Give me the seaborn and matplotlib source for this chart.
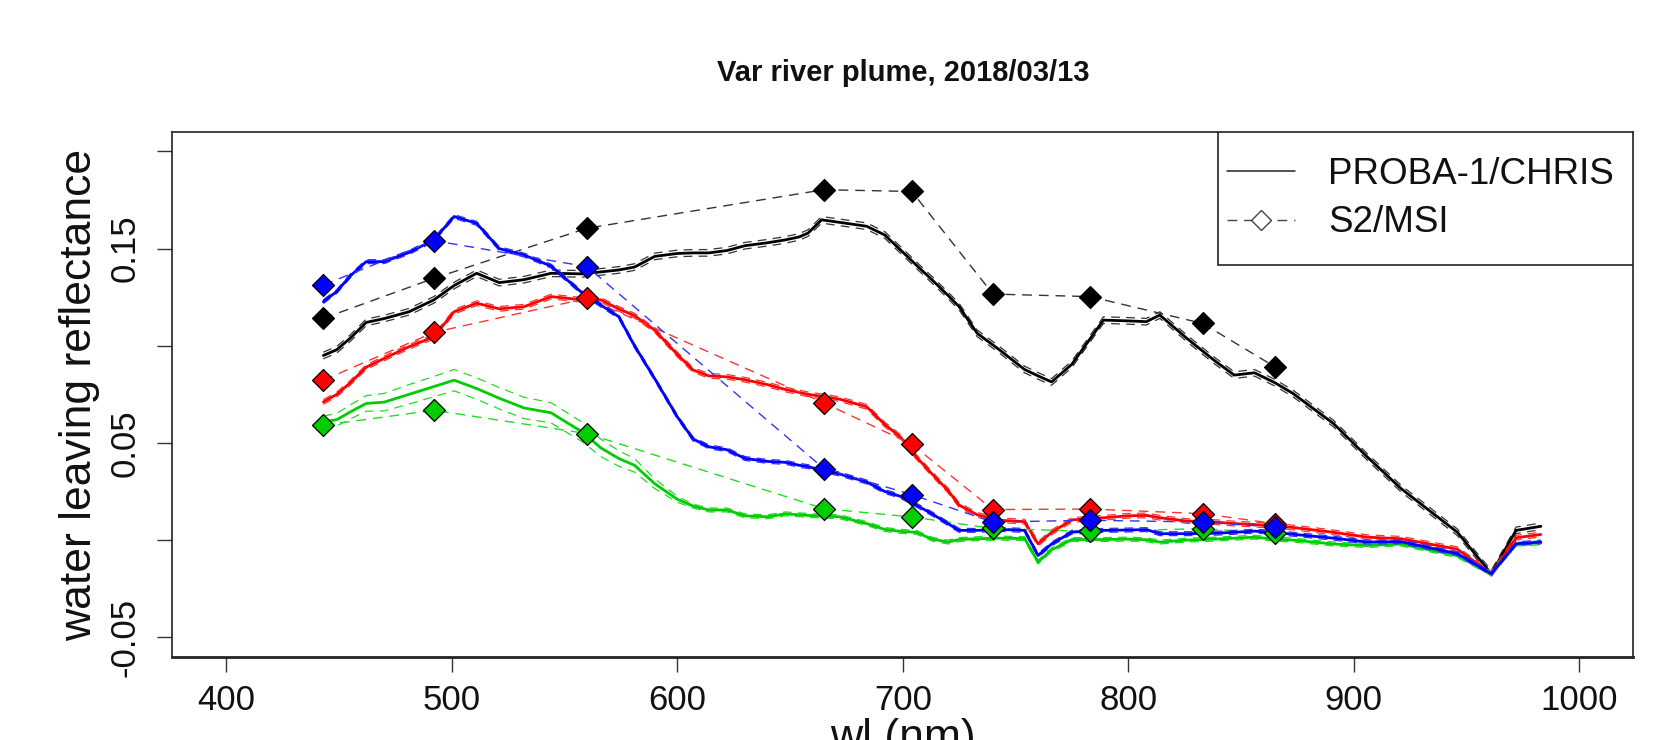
import numpy as np
import matplotlib
matplotlib.use("Agg")
import matplotlib.pyplot as plt
import seaborn as sns
from matplotlib.lines import Line2D
from matplotlib.patches import Rectangle

# ---------------- data ----------------
wl_chris = [443, 449, 455, 462, 470, 481, 492, 501, 511, 521, 532, 544, 558, 566, 574,
            581, 590, 600, 607, 614, 622, 630, 640, 648, 654, 658, 664, 672, 684, 692,
            699, 706, 713, 720, 725, 733, 743, 754, 760, 766, 775, 789, 800, 808, 814,
            826, 838, 847, 856, 865, 873, 891, 906, 921, 946, 961, 972, 983]

black_chris = [.095, .098, .104, .112, .114, .1175, .1236, .131, .1373, .1325, .134, .1373, .137, .138, .139,
               .1405, .146, .1475, .1478, .1478, .149, .1515, .153, .1545, .156, .158, .1648, .1635, .1615, .157,
               .1493, .1415, .1339, .126, .1201, .1064, .0978, .0878, .0845, .0814, .0905, .1132, .1128, .1124, .1158,
               .1038, .0926, .0849, .0861, .081, .0755, .06, .0428, .0265, .004, -.0173, .005, .0071]

blue_chris = [.1227, .128, .136, .1433, .1433, .148, .1545, .1665, .163, .15, .1467, .141, .127, .121, .115,
              .1, .083, .0634, .052, .048, .0465, .042, .0405, .04, .0385, .0378, .036, .034, .0299, .025,
              .0225, .018, .0135, .0085, .005, .005, .0055, .005, -.0079, -.002, .0041, .005, .0052, .0054, .0033,
              .0033, .0035, .004, .0046, .004, .003, .001, -.001, -.0008, -.007, -.0173, -.0019, -.001]

red_chris = [.0711, .075, .081, .089, .0935, .0995, .1046, .1175, .1219, .119, .1201, .1253, .1236, .1236, .119,
             .1155, .108, .0955, .0875, .0845, .084, .0825, .08, .0775, .076, .075, .074, .0725, .0686, .0595,
             .053, .0428, .034, .0256, .018, .013, .0102, .0095, -.0019, .004, .0104, .0115, .0125, .0127, .0115,
             .0098, .0093, .0085, .008, .0072, .0065, .004, .0015, .0007, -.0047, -.0173, .0012, .0029]

green_chris = [.0608, .062, .066, .0703, .071, .075, .079, .0823, .078, .073, .068, .0655, .0555, .0475, .042,
               .0385, .029, .021, .0175, .0155, .0155, .0125, .012, .0135, .013, .0127, .0124, .012, .0085, .0055,
               .0045, .004, .0005, -.001, .0003, .0007, .001, .0008, -.0113, -.005, .0003, .0003, .0005, .0002, -.001,
               0.0, .0005, .001, .0015, .0005, 0.0, -.002, -.0028, -.002, -.008, -.0173, -.0021, -.0014]

# spread of the CHRIS spectra (dashed envelopes)
black_sd = 0.0017
blue_sd = 0.0010
red_sd = 0.0012
green_sd = [.003, .0032, .0036, .004, .0045, .005, .0052, .0055, .0055, .0055, .0055, .0052, .005, .0045, .004,
            .0035, .0025, .0015, .001, .001, .001, .001, .001, .001, .001, .001, .001, .001, .001, .001,
            .001, .001, .001, .001, .001, .001, .001, .001, .001, .001, .001, .001, .001, .001, .001,
            .001, .001, .001, .001, .001, .001, .001, .001, .001, .001, .001, .001, .001]

wl_s2 = [443, 492, 560, 665, 704, 740, 783, 833, 865]
black_s2 = [.1141, .1347, .1605, .1803, .1794, .1266, .1253, .1115, .0892]
blue_s2 = [.1313, .1541, .1407, .0368, .0234, .0093, .0102, .0093, .0067]
red_s2 = [.0823, .1069, .1244, .0706, .0493, .0157, .0160, .0136, .0085]
green_s2 = [.0591, .0668, .0548, .0162, .0119, .0060, .0045, .0059, .0035]

x_ticks = [400, 500, 600, 700, 800, 900, 1000]
y_ticks = [-0.05, 0.0, 0.05, 0.10, 0.15, 0.20]
y_ticklabels = ["-0.05", "", "0.05", "", "0.15", ""]

title = "Var river plume, 2018/03/13"
xlabel = "wl (nm)"
ylabel = "water leaving reflectance"
legend_labels = ["PROBA-1/CHRIS", "S2/MSI"]

# ---------------- style ----------------
sns.set_theme(style="white")
plt.rcParams['font.family'] = ['Liberation Sans', 'DejaVu Sans']

W, H = 1679, 740
fig = plt.figure(figsize=(W / 100, H / 100), dpi=100)
ax_l, ax_r, ax_t, ax_b = 172.3, 1633.3, 132.0, 656.7
ax = fig.add_axes([ax_l / W, 1 - ax_b / H, (ax_r - ax_l) / W, (ax_b - ax_t) / H])

DASH = (0, (7, 5))
series = [
    ("black", "#333333", black_chris, black_sd, black_s2),
    ("#FF0000", "#FF3333", red_chris, red_sd, red_s2),
    ("#00CD00", "#22DD22", green_chris, green_sd, green_s2),
    ("#0000FF", "#3333FF", blue_chris, blue_sd, blue_s2),
]

for col, dcol, chris, sd, s2 in series:
    chris = np.asarray(chris)
    sd = np.broadcast_to(np.asarray(sd, dtype=float), chris.shape)
    for env in (chris + sd, chris - sd):
        sns.lineplot(x=wl_chris, y=env, color=dcol, linewidth=0.9, linestyle=DASH,
                     estimator=None, sort=False, ax=ax)
    sns.lineplot(x=wl_chris, y=chris, color=col, linewidth=2.0,
                 estimator=None, sort=False, ax=ax)
    sns.lineplot(x=wl_s2, y=s2, color=dcol, linewidth=1.0, linestyle=DASH,
                 estimator=None, sort=False, ax=ax)
    sns.scatterplot(x=wl_s2, y=s2, marker="D", s=125, color=col, edgecolor="black",
                    linewidth=0.9, ax=ax, zorder=3)

ax.set_xlim(376, 1024)
ax.set_ylim(-0.06, 0.21)
ax.set_xticks(x_ticks)
ax.set_xticklabels([str(t) for t in x_ticks], fontsize=25, color="#111111")
ax.set_yticks(y_ticks)
ax.set_yticklabels(y_ticklabels, fontsize=25, rotation=90, va="center", color="#111111")
ax.tick_params(axis="both", direction="out", length=10.8, width=1.0, color="#333333",
               bottom=True, left=True)
ax.tick_params(axis="x", pad=8.5)
ax.tick_params(axis="y", pad=11.5)
ax.set_xlabel("")
ax.set_ylabel("")
for sp in ax.spines.values():
    sp.set_visible(True)
    sp.set_color("#222222")
    sp.set_linewidth(1.2)
ax.spines["bottom"].set_linewidth(2.0)
ax.grid(False)

fig.text(((ax_l + ax_r) / 2) / W, 1 - 73 / H, title, fontsize=21, fontweight="bold",
         ha="center", va="center", color="#111111")
fig.text(80 / W, 1 - 395 / H, ylabel, fontsize=32, rotation=90, ha="center", va="center",
         color="#111111")
fig.text(((ax_l + ax_r) / 2) / W, 1 - 718 / H, xlabel, fontsize=32, ha="center", va="top",
         color="#111111")

# legend box
bx0 = (1218 - ax_l) / (ax_r - ax_l)
by0 = (ax_b - 265) / (ax_b - ax_t)
ax.add_patch(Rectangle((bx0, by0), 1 - bx0, 1 - by0, transform=ax.transAxes,
                       facecolor="white", edgecolor="#222222", linewidth=1.2, zorder=5))
handles = [
    Line2D([], [], color="#222222", linewidth=1.1),
    Line2D([], [], color="#444444", linewidth=1.0, linestyle=DASH, marker="D",
           markerfacecolor="white", markeredgecolor="#444444", markersize=10),
]
leg = ax.legend(handles, legend_labels, frameon=False, loc="center left",
                bbox_to_anchor=((1227 - ax_l) / (ax_r - ax_l), ((ax_b - 198.5) / (ax_b - ax_t))),
                bbox_transform=ax.transAxes, fontsize=26.5, handlelength=1.85,
                handletextpad=0.9, borderpad=0, borderaxespad=0, labelspacing=0.38)
leg.set_zorder(6)
for t in leg.get_texts():
    t.set_color("#111111")

fig.savefig("out.png", dpi=100)
